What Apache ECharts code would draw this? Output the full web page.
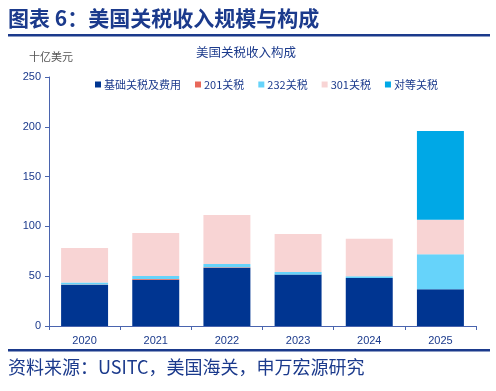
<!DOCTYPE html>
<html><head><meta charset="utf-8">
<script src="https://cdn.jsdelivr.net/npm/echarts@6/dist/echarts.min.js"></script>
<style>html,body{margin:0;padding:0;background:#fff}#c{width:496px;height:391px}</style>
</head><body><div id="c"></div>
<script>
const categories = ['2020','2021','2022','2023','2024','2025'];
const seriesNames = ['基础关税及费用','201关税','232关税','301关税','对等关税'];
const base = [41.5, 46.5, 58.6, 51.6, 48.2, 36.8];
const s201 = [0.2, 0.8, 0.3, 0.1, 0.1, 0];
const s232 = [2.0, 2.8, 3.3, 2.5, 1.6, 35.2];
const s301 = [34.6, 43.3, 49.2, 38.2, 37.8, 34.8];
const reciprocal = [0, 0, 0, 0, 0, 89];
const yTicks = [0, 50, 100, 150, 200, 250];
const colors = ['#003591', '#E8685A', '#66D3FA', '#F8D4D4', '#00A8E6'];
const values = [base, s201, s232, s301, reciprocal];

const navy = '#1B3A8C';
const font = '"Noto Sans CJK SC", "Noto Sans", sans-serif';
const chart = echarts.init(document.getElementById('c'));
chart.setOption({
  animation: false,
  textStyle: {fontFamily: font},
  grid: {left: 49, right: 20, top: 77, bottom: 65},
  legend: {
    top: 74, left: 90, itemWidth: 6, itemHeight: 6, itemGap: 14,
    icon: 'rect',
    textStyle: {fontSize: 11, color: navy, fontFamily: font, padding: [0,0,0,-2]},
    data: seriesNames
  },
  xAxis: {
    type: 'category', data: categories,
    axisLine: {lineStyle: {color: '#4A64AE', width: 1}},
    axisTick: {show: true, alignWithLabel: false, length: 4, lineStyle: {color: '#4A64AE'}},
    axisLabel: {color: navy, fontSize: 11, margin: 9, fontFamily: 'Liberation Sans, Arial, sans-serif'}
  },
  yAxis: {
    type: 'value', min: yTicks[0], max: yTicks[yTicks.length-1], interval: 50,
    axisLine: {show: true, lineStyle: {color: '#4A64AE'}},
    axisTick: {show: true, length: 4, lineStyle: {color: '#4A64AE'}},
    splitLine: {show: false},
    axisLabel: {color: navy, fontSize: 11, margin: 8, fontFamily: 'Liberation Sans, Arial, sans-serif'}
  },
  series: seriesNames.map((n, i) => ({
    name: n, type: 'bar', stack: 'total', data: values[i],
    barWidth: '66%', itemStyle: {color: colors[i]}
  })),
  graphic: [
    {type: 'text', left: 8, top: 8, style: {text: '图表 6：美国关税收入规模与构成', font: 'bold 21px ' + font, fill: '#1B3A8C'}},
    {type: 'rect', shape: {x: 8, y: 34, width: 482, height: 2.5}, style: {fill: '#1B3A8C'}},
    {type: 'text', left: 29, top: 51, style: {text: '十亿美元', font: '11px ' + font, fill: '#555'}},
    {type: 'text', left: 196, top: 46, style: {text: '美国关税收入构成', font: '12.5px ' + font, fill: navy}},
    {type: 'rect', shape: {x: 8, y: 349, width: 482, height: 2.5}, style: {fill: '#1B3A8C'}},
    {type: 'text', left: 8, top: 358, style: {text: '资料来源：USITC，美国海关，申万宏源研究', font: '18px ' + font, fill: '#1B3A8C'}}
  ]
});
</script></body></html>
